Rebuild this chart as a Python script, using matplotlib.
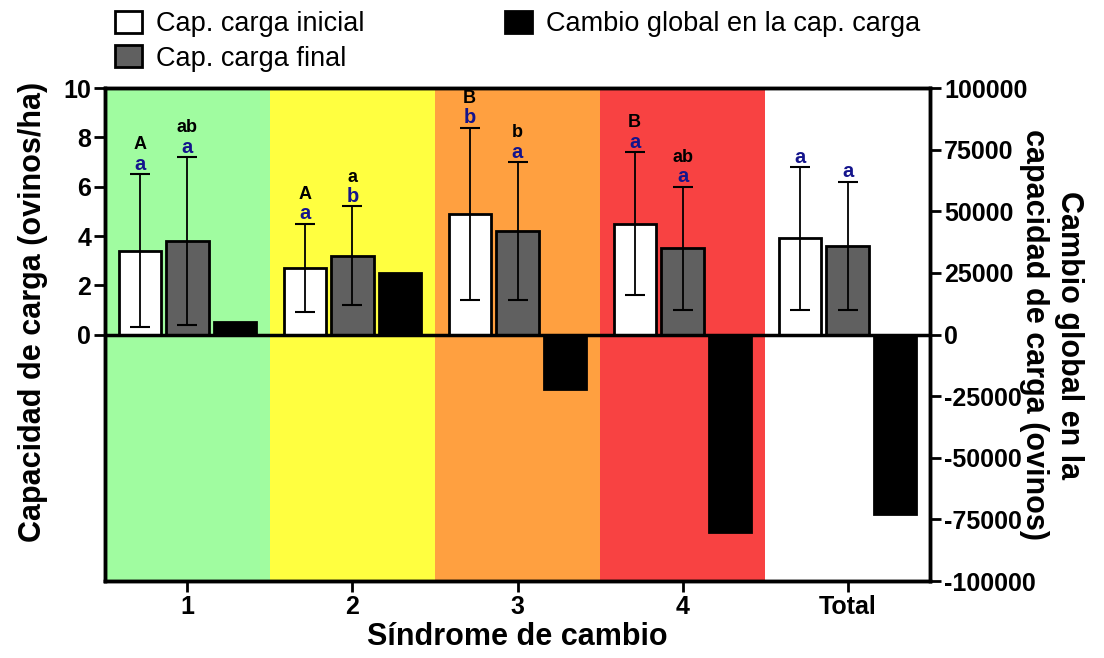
import numpy as np
import matplotlib.pyplot as plt
from matplotlib.patches import Patch

plt.rcParams['font.family'] = ['Liberation Sans', 'DejaVu Sans']
plt.rcParams['axes.unicode_minus'] = False

groups = ['1', '2', '3', '4', 'Total']
inicial = [3.4, 2.7, 4.9, 4.5, 3.9]
inicial_sd = [3.1, 1.8, 3.5, 2.9, 2.9]
final = [3.8, 3.2, 4.2, 3.5, 3.6]
final_sd = [3.4, 2.0, 2.8, 2.5, 2.6]
cambio = [5000, 25000, -22000, -80000, -73000]

letras_ini = ['A', 'A', 'B', 'B', '']
letras_fin = ['ab', 'a', 'b', 'ab', '']
azul_ini = ['a', 'a', 'b', 'a', 'a']
azul_fin = ['a', 'b', 'a', 'a', 'a']

fondos = ['#A0FCA0', '#FFFF40', '#FFA040', '#F84242']

x = np.arange(len(groups))
w = 0.255
off = 0.29

fig = plt.figure(figsize=(11.04, 6.58), dpi=100)
ax = fig.add_axes([0.0951, 0.117, 0.7473, 0.749])
ax2 = ax.twinx()

for i, c in enumerate(fondos):
    ax.axvspan(i - 0.5, i + 0.5, color=c, zorder=0, lw=0)

ax.bar(x - off, inicial, w, color='white', edgecolor='black', lw=2, zorder=2)
ax.bar(x, final, w, color='#606060', edgecolor='black', lw=2, zorder=2)
ax.errorbar(x - off, inicial, yerr=inicial_sd, fmt='none', ecolor='black',
            elinewidth=1.3, capsize=7, capthick=1.5, zorder=3)
ax.errorbar(x, final, yerr=final_sd, fmt='none', ecolor='black',
            elinewidth=1.3, capsize=7, capthick=1.5, zorder=3)
ax2.bar(x + off, cambio, w, color='black', edgecolor='black', lw=2, zorder=2)
ax2.axhline(0, color='black', lw=2.5, zorder=4)

for i in range(len(groups)):
    for xx, top, az, neg in [(x[i] - off, inicial[i] + inicial_sd[i], azul_ini[i], letras_ini[i]),
                             (x[i], final[i] + final_sd[i], azul_fin[i], letras_fin[i])]:
        ax.text(xx, top + 0.02, az, ha='center', va='bottom', color='#14148C',
                fontsize=14.5, fontweight='bold', zorder=5)
        if neg:
            ax.text(xx, top + 0.85, neg, ha='center', va='bottom', color='black',
                    fontsize=13, fontweight='bold', zorder=5)

ax.set_xlim(-0.5, 4.5)
ax.set_ylim(-10, 10)
ax.set_yticks(np.arange(0, 11, 2))
ax2.set_ylim(-100000, 100000)
ax2.set_yticks(np.arange(-100000, 100001, 25000))
ax.set_xticks(x)
ax.set_xticklabels(groups)

for a in (ax, ax2):
    for s in a.spines.values():
        s.set_linewidth(2.5)
    a.tick_params(width=2, length=8, labelsize=18, pad=2)
    for lab in a.get_xticklabels() + a.get_yticklabels():
        lab.set_fontweight('bold')

ax.set_xlabel('Síndrome de cambio', fontsize=22, fontweight='bold', labelpad=2)
ax.set_ylabel('Capacidad de carga (ovinos/ha)', fontsize=22, fontweight='bold')
ax.yaxis.set_label_coords(-0.069, 0.546)
ax2.set_ylabel('Cambio global en la\ncapacidad de carga (ovinos)', fontsize=22,
               fontweight='bold', rotation=270, labelpad=35, linespacing=1.25)

handles = [Patch(facecolor='white', edgecolor='black', lw=2),
           Patch(facecolor='#606060', edgecolor='black', lw=2),
           Patch(facecolor='black', edgecolor='black', lw=2)]
labels = ['Cap. carga inicial', 'Cap. carga final', 'Cambio global en la cap. carga']
fig.legend(handles, labels, loc='upper left', bbox_to_anchor=(0.087, 1.012), ncol=2,
           frameon=False, fontsize=19.5, handlelength=1.0, handleheight=0.85,
           handletextpad=0.5, columnspacing=5.2, labelspacing=0.3, borderaxespad=0.3)

fig.savefig('out.png', dpi=100)
